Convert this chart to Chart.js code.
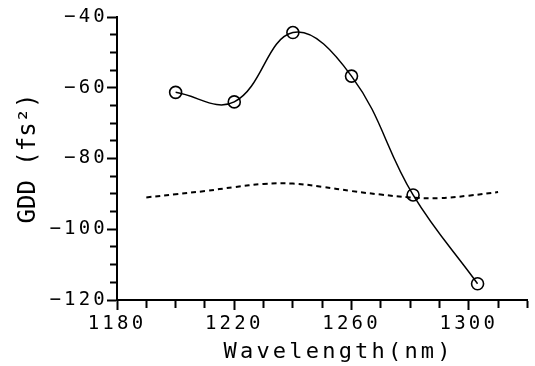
<!DOCTYPE html>
<html>
<head>
<meta charset="utf-8">
<script src="https://cdn.jsdelivr.net/npm/chart.js@4.4.0/dist/chart.umd.min.js"></script>
<style>
  html, body { margin: 0; padding: 0; background: #fff; }
  canvas { display: block; }
</style>
</head>
<body>
<canvas id="gdd-chart" width="535" height="366"></canvas>
<script>
// measured GDD points (circles, solid spline)
const measuredWavelength = [1200, 1220, 1240, 1260, 1281, 1303];
const measuredGDD = [-61.3, -64.0, -44.4, -56.7, -90.3, -115.4];

// design curve (dashed)
const designWavelength = [1190, 1200, 1210, 1220, 1230, 1240, 1250, 1260, 1270, 1280, 1290, 1300, 1310];
const designGDD = [-91.0, -90.1, -89.2, -88.1, -87.2, -87.1, -88.0, -89.2, -90.2, -91.0, -91.2, -90.5, -89.5];

// axes
const xRange = [1180, 1320];
const xMinorStep = 10;
const xLabelStep = 40;
const yRange = [-120, -40];
const yMinorStep = 5;
const yLabelStep = 20;

const FONT = "'DejaVu Sans Mono', monospace";
const LETTER_SPACING = '3.2px';

// the original font is much wider than any installed mono font,
// so spread the glyphs out (but not for the rotated y title)
const spacingPlugin = {
    id: 'spacing',
    beforeUpdate(chart) { chart.ctx.letterSpacing = LETTER_SPACING; },
    beforeDraw(chart) { chart.ctx.letterSpacing = LETTER_SPACING; },
    afterLayout(chart) {
        const y = chart.scales.y;
        if (y && !y._plainTitle) {
            const orig = y.drawTitle;
            y.drawTitle = function() {
                const prev = this.ctx.letterSpacing;
                this.ctx.letterSpacing = '0px';
                orig.call(this);
                this.ctx.letterSpacing = prev;
            };
            y._plainTitle = true;
        }
    }
};

const toPoints = (xs, ys) => xs.map((x, i) => ({ x: x, y: ys[i] }));
const minus = v => String(v).replace('-', '\u2212');

new Chart(document.getElementById('gdd-chart'), {
    type: 'line',
    data: {
        datasets: [
            {
                label: 'design',
                data: toPoints(designWavelength, designGDD),
                borderColor: '#000',
                borderWidth: 2,
                borderDash: [5, 4],
                pointRadius: 0,
                tension: 0.4,
                fill: false
            },
            {
                label: 'measured',
                data: toPoints(measuredWavelength, measuredGDD),
                borderColor: '#000',
                borderWidth: 1.5,
                pointRadius: 6,
                pointBorderWidth: 1.6,
                pointBorderColor: '#000',
                pointBackgroundColor: 'rgba(0,0,0,0)',
                pointStyle: 'circle',
                tension: 0.4,
                fill: false
            }
        ]
    },
    options: {
        responsive: false,
        animation: false,
        devicePixelRatio: 1,
        layout: { padding: { top: 17, left: 0, right: 0, bottom: 0 } },
        plugins: { legend: { display: false }, tooltip: { enabled: false } },
        scales: {
            x: {
                type: 'linear',
                min: xRange[0],
                max: xRange[1],
                border: { display: true, color: '#000', width: 2 },
                grid: {
                    drawOnChartArea: false,
                    tickLength: 10,
                    tickWidth: 2,
                    tickColor: '#000',
                    // minor ticks: only the part next to the axis is drawn
                    tickBorderDash: ctx => (ctx.tick && (ctx.tick.value - xRange[0]) % xLabelStep === 0) ? [] : [7, 100]
                },
                ticks: {
                    stepSize: xMinorStep,
                    autoSkip: false,
                    maxRotation: 0,
                    padding: 3,
                    color: '#000',
                    font: { family: FONT, size: 19 },
                    callback: v => (v - xRange[0]) % xLabelStep === 0 ? String(v) : ''
                },
                title: {
                    display: true,
                    text: '  Wavelength(nm)',
                    color: '#000',
                    font: { family: FONT, size: 22, lineHeight: 1 },
                    padding: { top: 0, bottom: 3 }
                },
                afterFit(scale) { scale.height = 66; }
            },
            y: {
                type: 'linear',
                min: yRange[0],
                max: yRange[1],
                border: { display: true, color: '#000', width: 2 },
                grid: {
                    drawOnChartArea: false,
                    tickLength: 10,
                    tickWidth: 2,
                    tickColor: '#000',
                    // left ticks are drawn from the outer end inwards
                    tickBorderDash: ctx => (ctx.tick && ctx.tick.value % yLabelStep === 0) ? [] : [0, 3, 6, 100]
                },
                ticks: {
                    stepSize: yMinorStep,
                    autoSkip: false,
                    padding: -1,
                    color: '#000',
                    font: { family: FONT, size: 19 },
                    callback: v => v % yLabelStep === 0 ? minus(v) : ''
                },
                title: {
                    display: true,
                    text: 'GDD (fs\u00b2)',
                    color: '#000',
                    font: { family: FONT, size: 24 },
                    padding: { top: 14, bottom: 0 }
                },
                afterFit(scale) { scale.width = 117; }
            }
        }
    },
    plugins: [spacingPlugin]
});
</script>
</body>
</html>
